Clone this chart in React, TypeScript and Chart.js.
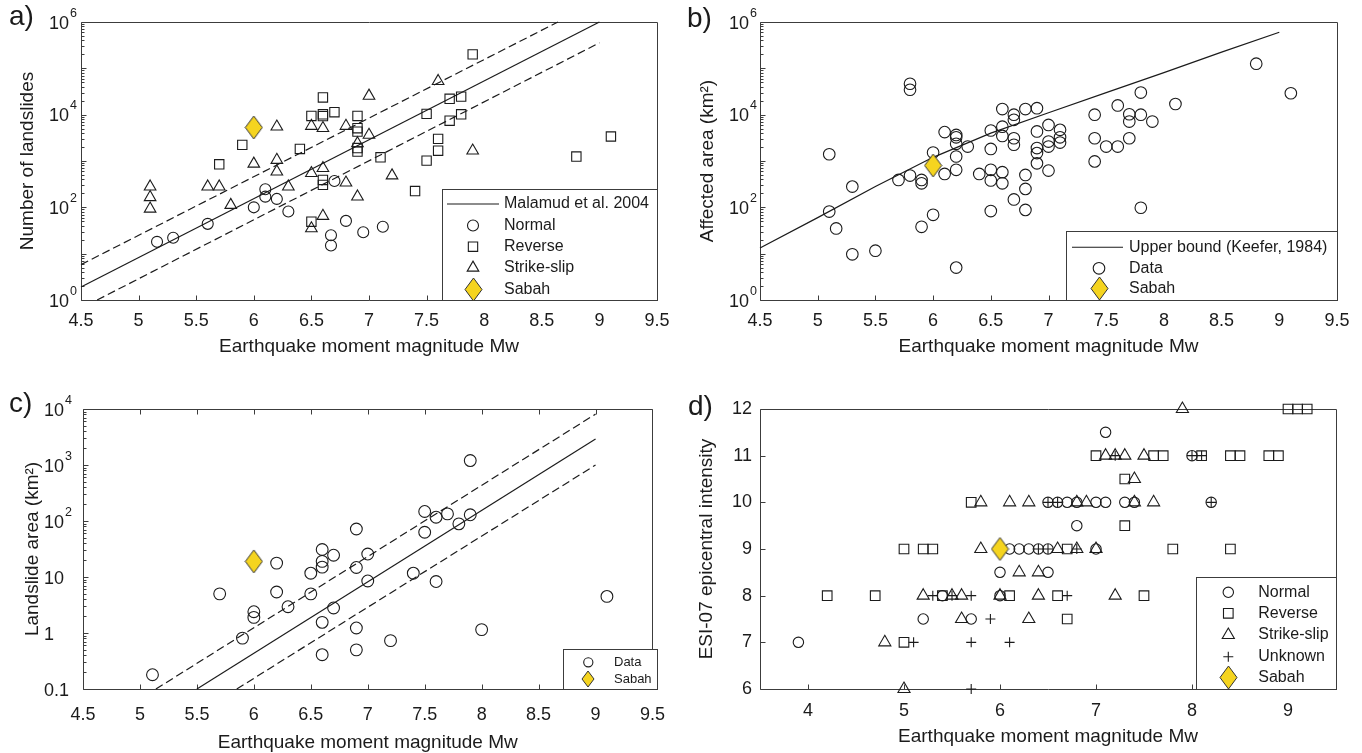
import React, { useEffect, useRef } from 'react';
import { Chart, registerables } from 'chart.js';

Chart.register(...registerables);

const FONT = "'Liberation Sans', Arial, Helvetica, sans-serif";
const INK = '#1b1b1b';
const FRAME = '#3c3c3c';
const YELLOW = '#F5D41F';

type P = [number, number][];

// ---------- tick values / labels ----------
const magTicks = [4.5, 5, 5.5, 6, 6.5, 7, 7.5, 8, 8.5, 9, 9.5];
const magTickLabels = ['4.5', '5', '5.5', '6', '6.5', '7', '7.5', '8', '8.5', '9', '9.5'];
const magTicksD = [4, 5, 6, 7, 8, 9];
const magTickLabelsD = ['4', '5', '6', '7', '8', '9'];
const powTicks = [1, 1e2, 1e4, 1e6];
const powTickLabels = ['10⁰', '10²', '10⁴', '10⁶'];
const areaTicksC = [0.1, 1, 10, 1e2, 1e3, 1e4];
const areaTickLabelsC = ['0.1', '1', '10', '10²', '10³', '10⁴'];
const esiTicks = [6, 7, 8, 9, 10, 11, 12];
const esiTickLabels = ['6', '7', '8', '9', '10', '11', '12'];

// ---------- a) number of landslides ----------
const aNormal: P = [[5.16, 18], [5.3, 22], [5.6, 44], [6.0, 100], [6.1, 245], [6.1, 170], [6.2, 152], [6.3, 81], [6.7, 370], [6.8, 51], [6.67, 25], [6.67, 15], [6.95, 29], [7.12, 38]];
const aReverse: P = [[5.7, 850], [5.9, 2230], [6.4, 1820], [6.5, 9400], [6.5, 49], [6.6, 23500], [6.6, 10200], [6.6, 9300], [6.6, 390], [6.6, 305], [6.7, 11300], [6.9, 9400], [6.9, 5100], [6.9, 4300], [6.9, 1900], [6.9, 1600], [7.1, 1200], [7.4, 225], [7.5, 10400], [7.5, 1020], [7.6, 3000], [7.6, 1670], [7.7, 22000], [7.7, 7400], [7.8, 24500], [7.8, 10200], [7.9, 200000], [8.8, 1250], [9.1, 3380]];
const aStrike: P = [[5.1, 280], [5.1, 165], [5.1, 93], [5.6, 280], [5.7, 280], [5.8, 112], [6.0, 870], [6.2, 5500], [6.2, 1050], [6.2, 590], [6.3, 280], [6.5, 5700], [6.5, 545], [6.5, 35], [6.6, 5100], [6.6, 700], [6.6, 65], [6.8, 5700], [6.8, 340], [6.9, 2400], [6.9, 170], [7.0, 25500], [7.0, 3650], [7.2, 485], [7.6, 53000], [7.9, 1670]];
const aSabah: P = [[6.0, 5300]];
const aFit: P = [[4.5, 1.9], [9.0, 1e6]];
const aUpper: P = [[4.5, 5.8], [8.64, 1e6]];
const aLower: P = [[4.64, 1], [9.0, 355000]];

// ---------- b) affected area ----------
const bData: P = [[5.1, 1400], [5.1, 81], [5.16, 35], [5.3, 280], [5.3, 9.7], [5.5, 11.6], [5.7, 390], [5.8, 485], [5.8, 46500], [5.8, 34500], [5.9, 390], [5.9, 330], [5.9, 38], [6.0, 1520], [6.0, 69], [6.1, 4200], [6.1, 525], [6.2, 3650], [6.2, 3250], [6.2, 2350], [6.2, 1250], [6.2, 645], [6.2, 5], [6.3, 2050], [6.4, 525], [6.5, 4550], [6.5, 1820], [6.5, 645], [6.5, 380], [6.5, 83], [6.6, 13200], [6.6, 5500], [6.6, 3470], [6.6, 575], [6.6, 330], [6.7, 10000], [6.7, 7750], [6.7, 3100], [6.7, 2240], [6.7, 148], [6.8, 13200], [6.8, 500], [6.8, 250], [6.8, 88], [6.9, 13800], [6.9, 4350], [6.9, 1900], [6.9, 1480], [6.9, 890], [7.0, 6000], [7.0, 2630], [7.0, 2050], [7.0, 620], [7.1, 4700], [7.1, 3250], [7.1, 2500], [7.4, 10000], [7.4, 3100], [7.4, 980], [7.5, 2050], [7.6, 2050], [7.6, 15800], [7.7, 10200], [7.7, 7100], [7.7, 3100], [7.8, 30000], [7.8, 10000], [7.8, 98], [7.9, 7100], [8.1, 17000], [8.8, 126000], [9.1, 29000]];
const bSabah: P = [[6.0, 800]];
const bKeefer: P = [[4.5, 13.2], [5.0, 60], [5.5, 282], [6.0, 1200], [6.5, 4000], [7.0, 11000], [7.5, 30000], [8.0, 81000], [8.5, 224000], [9.0, 600000]];

// ---------- c) landslide area ----------
const cData: P = [[5.11, 0.18], [5.7, 5.0], [5.9, 0.81], [6.0, 2.4], [6.0, 1.9], [6.2, 17.7], [6.2, 5.4], [6.3, 2.95], [6.5, 11.7], [6.5, 5.0], [6.6, 31], [6.6, 19], [6.6, 15], [6.6, 1.55], [6.6, 0.41], [6.7, 24.5], [6.7, 2.8], [6.9, 72], [6.9, 14.8], [6.9, 1.23], [6.9, 0.5], [7.0, 25.7], [7.0, 8.5], [7.2, 0.73], [7.4, 11.7], [7.5, 148], [7.5, 63], [7.6, 117], [7.6, 8.3], [7.7, 134], [7.8, 89], [7.9, 129], [7.9, 1200], [8.0, 1.15], [9.1, 4.5]];
const cSabah: P = [[6.0, 19]];
const cFit: P = [[5.5, 0.1], [9.0, 2900]];
const cUpper: P = [[5.14, 0.1], [9.0, 8100]];
const cLower: P = [[5.85, 0.1], [9.0, 1000]];

// ---------- d) ESI-07 intensity ----------
const dNormal: P = [[3.9, 7], [5.2, 7.5], [5.7, 7.5], [5.4, 8], [6.0, 8], [6.0, 8.5], [6.5, 8.5], [6.1, 9], [6.2, 9], [6.3, 9], [6.4, 9], [6.5, 9], [7.0, 9], [6.8, 9.5], [6.5, 10], [6.6, 10], [6.7, 10], [6.8, 10], [7.0, 10], [7.1, 10], [7.3, 10], [7.4, 10], [8.2, 10], [8.0, 11], [7.1, 11.5]];
const dReverse: P = [[5.0, 7], [6.7, 7.5], [4.2, 8], [4.7, 8], [5.4, 8], [6.1, 8], [6.6, 8], [7.5, 8], [5.0, 9], [5.2, 9], [5.3, 9], [6.7, 9], [7.8, 9], [8.4, 9], [7.3, 9.5], [5.7, 10], [7.3, 10.5], [7.0, 11], [7.6, 11], [7.7, 11], [8.1, 11], [8.4, 11], [8.5, 11], [8.8, 11], [8.9, 11], [9.0, 12], [9.1, 12], [9.2, 12]];
const dStrike: P = [[5.0, 6], [4.8, 7], [5.6, 7.5], [6.3, 7.5], [5.2, 8], [5.5, 8], [5.6, 8], [6.0, 8], [6.4, 8], [7.2, 8], [6.2, 8.5], [6.4, 8.5], [5.8, 9], [6.6, 9], [6.8, 9], [7.0, 9], [5.8, 10], [6.1, 10], [6.3, 10], [6.8, 10], [6.9, 10], [7.4, 10], [7.6, 10], [7.4, 10.5], [7.1, 11], [7.2, 11], [7.3, 11], [7.5, 11], [7.9, 12]];
const dUnknown: P = [[5.7, 6], [5.1, 7], [5.7, 7], [6.1, 7], [5.9, 7.5], [5.3, 8], [5.5, 8], [5.7, 8], [6.7, 8], [6.4, 9], [6.5, 9], [6.8, 9], [6.5, 10], [6.6, 10], [8.2, 10], [7.2, 11], [8.0, 11], [8.1, 11]];
const dSabah: P = [[6.0, 9]];

// ---------- layout ----------
const BOXES = [
  { left: 0, top: 0, width: 680, height: 375 },
  { left: 680, top: 0, width: 682, height: 375 },
  { left: 0, top: 375, width: 680, height: 378 },
  { left: 680, top: 375, width: 682, height: 378 },
];

const SUP: Record<string, string> = { '⁰': '0', '¹': '1', '²': '2', '³': '3', '⁴': '4', '⁵': '5', '⁶': '6', '⁷': '7', '⁸': '8', '⁹': '9' };
function splitSup(s: string): [string, string] {
  let base = '';
  let sup = '';
  for (const ch of s) {
    if (SUP[ch]) sup += SUP[ch];
    else base += ch;
  }
  return [base, sup];
}

function diamond(w: number, h: number) {
  const c = document.createElement('canvas');
  c.width = w + 2;
  c.height = h + 2;
  const g = c.getContext('2d') as CanvasRenderingContext2D;
  g.beginPath();
  g.moveTo(c.width / 2, 1);
  g.lineTo(c.width - 1, c.height / 2);
  g.lineTo(c.width / 2, c.height - 1);
  g.lineTo(1, c.height / 2);
  g.closePath();
  g.fillStyle = YELLOW;
  g.fill();
  g.lineWidth = 1;
  g.strokeStyle = '#333';
  g.stroke();
  return c;
}

const pts = (a: P) => a.map(([x, y]) => ({ x, y }));

function marks(label: string, data: P, style: any, r: number, order = 1) {
  return {
    label, data: pts(data), pointStyle: style, pointRadius: r, borderColor: INK,
    backgroundColor: 'rgba(0,0,0,0)', borderWidth: 1.1, showLine: false, clip: false, order,
  };
}
function line(label: string, data: P, dash: number[]) {
  return {
    label, data: pts(data), showLine: true, pointRadius: 0, borderColor: INK,
    borderWidth: 1.2, borderDash: dash, fill: false, tension: 0, clip: false, order: 2,
  };
}

function drawMarker(ctx: CanvasRenderingContext2D, style: any, x: number, y: number, r: number) {
  if (typeof style !== 'string') {
    ctx.drawImage(style, Math.round(x - style.width / 2), Math.round(y - style.height / 2));
    return;
  }
  ctx.beginPath();
  if (style === 'circle') ctx.arc(x, y, r, 0, Math.PI * 2);
  else if (style === 'rect') {
    const s = r * Math.SQRT1_2;
    ctx.rect(x - s, y - s, 2 * s, 2 * s);
  } else if (style === 'triangle') {
    const a = (2 * Math.PI) / 3;
    ctx.moveTo(x, y - r);
    ctx.lineTo(x + Math.sin(a) * r, y - Math.cos(a) * r);
    ctx.lineTo(x + Math.sin(2 * a) * r, y - Math.cos(2 * a) * r);
    ctx.closePath();
  } else if (style === 'cross') {
    ctx.moveTo(x, y - r); ctx.lineTo(x, y + r);
    ctx.moveTo(x - r, y); ctx.lineTo(x + r, y);
  }
  ctx.stroke();
}

function buildPanels() {
  const dia = diamond(17, 23);
  const diaSmall = diamond(12, 16);
  return [
    {
      letter: 'a)', letterPos: [9, 25],
      area: { left: 81, top: 22, right: 657, bottom: 300 }, padLeft: 0,
      xMin: 4.5, xMax: 9.5, xTicks: magTicks, xLabels: magTickLabels,
      yLog: true, yMin: 1, yMax: 1e6, yTicks: powTicks, yLabels: powTickLabels,
      yTitle: 'Number of landslides',
      xTickPad: 10, xTitlePad: 16.6, yTickPad: 4, yCross: 'near', yTitlePad: 16.6, topTicks: false,
      datasets: [
        line('Malamud et al. 2004', aFit, []),
        line('upper', aUpper, [8, 4]),
        line('lower', aLower, [8, 4]),
        marks('Normal', aNormal, 'circle', 5.5),
        marks('Reverse', aReverse, 'rect', 6.6),
        marks('Strike-slip', aStrike, 'triangle', 6.7),
        marks('Sabah', aSabah, dia, 10, -1),
      ],
      legend: { box: [442, 189, 657, 300], rows: [204, 225.5, 246.7, 267.8, 289.2], items: ['Malamud et al. 2004', 'Normal', 'Reverse', 'Strike-slip', 'Sabah'], symX: 473, line: [447, 499], textX: 504, size: 16, icons: {} as any },
    },
    {
      letter: 'b)', letterPos: [7, 27],
      area: { left: 80, top: 22, right: 657, bottom: 300 }, padLeft: 0,
      xMin: 4.5, xMax: 9.5, xTicks: magTicks, xLabels: magTickLabels,
      yLog: true, yMin: 1, yMax: 1e6, yTicks: powTicks, yLabels: powTickLabels,
      yTitle: 'Affected area (km²)',
      xTickPad: 10, xTitlePad: 16.6, yTickPad: 3, yCross: 'near', yTitlePad: 16.6, topTicks: false,
      datasets: [
        line('Upper bound (Keefer, 1984)', bKeefer, []),
        marks('Data', bData, 'circle', 5.8),
        marks('Sabah', bSabah, dia, 10, -1),
      ],
      legend: { box: [386, 231, 657, 300], rows: [247.3, 268.3, 288.7], items: ['Upper bound (Keefer, 1984)', 'Data', 'Sabah'], symX: 419, line: [392, 443], textX: 449, size: 16, icons: {} as any },
    },
    {
      letter: 'c)', letterPos: [9, 37],
      area: { left: 83, top: 34, right: 657, bottom: 314 }, padLeft: 44,
      xMin: 4.5, xMax: 9.5, xTicks: magTicks, xLabels: magTickLabels,
      yLog: true, yMin: 0.1, yMax: 1e4, yTicks: areaTicksC, yLabels: areaTickLabelsC,
      yTitle: 'Landslide area (km²)',
      xTickPad: 15, xTitlePad: -1.4, yTickPad: 0, yCross: 'far', yTitlePad: -23, topTicks: true,
      datasets: [
        line('fit', cFit, []),
        line('upper', cUpper, [8, 4]),
        line('lower', cLower, [8, 4]),
        marks('Data', cData, 'circle', 5.9),
        marks('Sabah', cSabah, dia, 10, -1),
      ],
      legend: { box: [563, 274, 657, 314], rows: [287.3, 304.3], items: ['Data', 'Sabah'], symX: 588.3, line: [0, 0], textX: 614, size: 13, icons: { Sabah: diaSmall, DataR: 4.6 } as any },
    },
    {
      letter: 'd)', letterPos: [8, 40],
      area: { left: 80, top: 34, right: 656, bottom: 314 }, padLeft: 0,
      xMin: 3.5, xMax: 9.5, xTicks: magTicksD, xLabels: magTickLabelsD,
      yLog: false, yMin: 6, yMax: 12, yTicks: esiTicks, yLabels: esiTickLabels,
      yTitle: 'ESI-07 epicentral intensity',
      xTickPad: 11, xTitlePad: 4.6, yTickPad: 8, yCross: 'near', yTitlePad: 15.6, topTicks: false,
      datasets: [
        marks('Normal', dNormal, 'circle', 5.2),
        marks('Reverse', dReverse, 'rect', 6.8),
        marks('Strike-slip', dStrike, 'triangle', 7),
        marks('Unknown', dUnknown, 'cross', 5),
        marks('Sabah', dSabah, dia, 10, -1),
      ],
      legend: { box: [516, 202, 656, 314], rows: [217.3, 238.3, 260, 281.7, 302.7], items: ['Normal', 'Reverse', 'Strike-slip', 'Unknown', 'Sabah'], symX: 548.3, line: [0, 0], textX: 578.3, size: 16, icons: {} as any },
    },
  ];
}

function decor(p: any) {
  return {
    id: 'decor',
    beforeDatasetsDraw(chart: any) {
      const { ctx, chartArea: a } = chart;
      const xs = chart.scales.x;
      const ys = chart.scales.y;
      ctx.save();
      ctx.strokeStyle = FRAME;
      ctx.lineWidth = 1;
      ctx.beginPath();
      const L = Math.round(a.left) + 0.5, R = Math.round(a.right) + 0.5;
      const T = Math.round(a.top) + 0.5, B = Math.round(a.bottom) + 0.5;
      ctx.rect(L, T, R - L, B - T);
      for (const v of p.xTicks) {
        const x = Math.round(xs.getPixelForValue(v)) + 0.5;
        ctx.moveTo(x, B); ctx.lineTo(x, B - 5);
        if (p.topTicks) { ctx.moveTo(x, T); ctx.lineTo(x, T + 5); }
      }
      const tickY = (v: number, len: number) => {
        const y = Math.round(ys.getPixelForValue(v)) + 0.5;
        ctx.moveTo(L, y); ctx.lineTo(L + len, y);
      };
      if (p.yLog) {
        const e0 = Math.round(Math.log10(p.yMin));
        const e1 = Math.round(Math.log10(p.yMax));
        for (let e = e0; e <= e1; e++) {
          tickY(Math.pow(10, e), 5);
          if (e < e1) for (let k = 2; k <= 9; k++) tickY(k * Math.pow(10, e), 3);
        }
      } else {
        for (const v of p.yTicks) tickY(v, 5);
      }
      ctx.stroke();
      ctx.restore();
    },
    afterDatasetsDraw(chart: any) {
      const { ctx } = chart;
      const lg = p.legend;
      const [x0, y0, x1, y1] = lg.box;
      ctx.save();
      ctx.fillStyle = '#fff';
      ctx.fillRect(x0, y0, x1 - x0, y1 - y0);
      ctx.strokeStyle = FRAME;
      ctx.lineWidth = 1;
      ctx.strokeRect(Math.round(x0) + 0.5, Math.round(y0) + 0.5, Math.round(x1 - x0), Math.round(y1 - y0));
      ctx.font = `${lg.size}px ${FONT}`;
      ctx.textBaseline = 'middle';
      ctx.textAlign = 'left';
      lg.items.forEach((label: string, i: number) => {
        const ds = chart.data.datasets.find((d: any) => d.label === label);
        const y = lg.rows[i];
        ctx.strokeStyle = INK;
        ctx.lineWidth = 1.1;
        if (ds.showLine) {
          ctx.setLineDash(ds.borderDash || []);
          ctx.beginPath();
          ctx.moveTo(lg.line[0], y);
          ctx.lineTo(lg.line[1], y);
          ctx.stroke();
          ctx.setLineDash([]);
        } else {
          const icon = lg.icons[label] || ds.pointStyle;
          const r = lg.icons[label + 'R'] || ds.pointRadius;
          drawMarker(ctx, icon, lg.symX, y, r);
        }
        ctx.fillStyle = INK;
        ctx.fillText(label, lg.textX, y);
      });
      ctx.restore();
    },
    afterDraw(chart: any) {
      const { ctx } = chart;
      ctx.save();
      ctx.fillStyle = INK;
      ctx.textAlign = 'left';
      ctx.textBaseline = 'alphabetic';
      // log-axis labels with true superscript exponents
      if (p.yLog) {
        const ys = chart.scales.y;
        p.yTicks.forEach((v: number, i: number) => {
          const [base, sup] = splitSup(p.yLabels[i]);
          const y = ys.getPixelForValue(v);
          ctx.font = `18px ${FONT}`;
          const wb = ctx.measureText(base).width;
          ctx.font = `12.5px ${FONT}`;
          const ws = sup ? ctx.measureText(sup).width + 1 : 0;
          const x = p.yCross === 'far' ? ys.left : ys.right - p.yTickPad - wb - ws;
          ctx.font = `18px ${FONT}`;
          ctx.fillText(base, x, y + 6.5);
          if (sup) {
            ctx.font = `12.5px ${FONT}`;
            ctx.fillText(sup, x + wb + 1, y - 5.5);
          }
        });
      }
      ctx.font = `28px ${FONT}`;
      ctx.fillText(p.letter, p.letterPos[0], p.letterPos[1]);
      ctx.restore();
    },
  };
}

function makeConfig(p: any, box: any) {
  const tickFont = { family: FONT, size: 18 };
  const titleFont = { family: FONT, size: 19 };
  return {
    type: 'scatter',
    data: { datasets: p.datasets },
    options: {
      animation: false,
      responsive: true,
      maintainAspectRatio: false,
      events: [],
      layout: { padding: { left: p.padLeft, top: p.area.top, right: box.width - p.area.right, bottom: 0 } },
      plugins: { legend: { display: false }, tooltip: { enabled: false } },
      scales: {
        x: {
          type: 'linear', min: p.xMin, max: p.xMax,
          afterBuildTicks: (s: any) => { s.ticks = p.xTicks.map((v: number) => ({ value: v })); },
          afterFit: (s: any) => { s.height = box.height - p.area.bottom; },
          grid: { display: false, drawTicks: false },
          border: { display: false },
          ticks: { autoSkip: false, maxRotation: 0, padding: p.xTickPad, color: INK, font: tickFont, callback: (_v: any, i: number) => p.xLabels[i] },
          title: { display: true, text: 'Earthquake moment magnitude Mw', color: INK, font: titleFont, padding: { top: 0, bottom: p.xTitlePad } },
        },
        y: {
          type: p.yLog ? 'logarithmic' : 'linear', min: p.yMin, max: p.yMax,
          afterBuildTicks: (s: any) => { s.ticks = p.yTicks.map((v: number) => ({ value: v })); },
          afterFit: (s: any) => { s.width = p.area.left - p.padLeft; },
          grid: { display: false, drawTicks: false },
          border: { display: false },
          ticks: {
            autoSkip: false, padding: p.yTickPad, crossAlign: p.yCross,
            // log labels are re-drawn by the decor plugin with real superscripts
            color: p.yLog ? 'rgba(0,0,0,0)' : INK,
            font: tickFont, callback: (_v: any, i: number) => p.yLabels[i],
          },
          title: { display: true, text: p.yTitle, color: INK, font: titleFont, padding: { top: p.yTitlePad, bottom: 0 } },
        },
      },
    },
    plugins: [decor(p)],
  };
}

export default function App() {
  const r0 = useRef<HTMLCanvasElement>(null);
  const r1 = useRef<HTMLCanvasElement>(null);
  const r2 = useRef<HTMLCanvasElement>(null);
  const r3 = useRef<HTMLCanvasElement>(null);
  const refs = [r0, r1, r2, r3];

  useEffect(() => {
    const panels = buildPanels();
    const charts = panels.map((p, i) => new Chart(refs[i].current as HTMLCanvasElement, makeConfig(p, BOXES[i]) as any));
    return () => charts.forEach((c) => c.destroy());
  }, []);

  return (
    <div style={{ position: 'absolute', left: 0, top: 0, width: 1362, height: 753, background: '#fff', overflow: 'hidden' }}>
      {BOXES.map((b, i) => (
        <div key={i} style={{ position: 'absolute', left: b.left, top: b.top, width: b.width, height: b.height }}>
          <canvas ref={refs[i]} />
        </div>
      ))}
    </div>
  );
}
